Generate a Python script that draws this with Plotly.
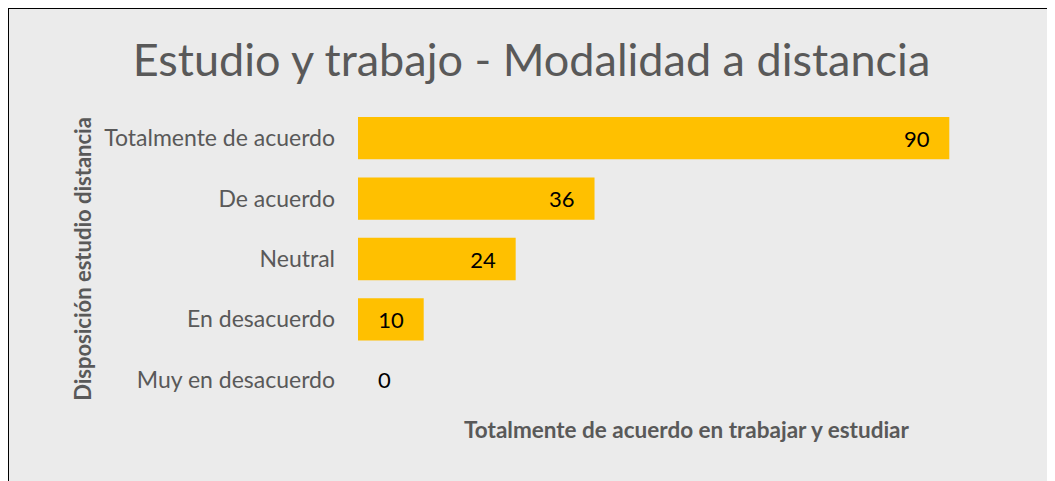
import plotly.graph_objects as go

categories = ["Totalmente de acuerdo", "De acuerdo", "Neutral", "En desacuerdo", "Muy en desacuerdo"]
values = [90, 36, 24, 10, 0]
title_text = "Estudio y trabajo - Modalidad a distancia"
x_title = "Totalmente de acuerdo en trabajar y estudiar"
y_title = "Disposición estudio distancia"

W, H = 1047, 473
L, R, T, B = 350, 40, 100, 71
FONT = "Lato"
PAD = "\u00a0\u00a0\u00a0"

fig = go.Figure(go.Bar(
    y=categories, x=values, orientation="h",
    marker=dict(color="#FFC000", line=dict(width=0)),
    text=[(str(v) + PAD) if v > 0 else (PAD + str(v)) for v in values],
    textposition=["inside" if v > 0 else "outside" for v in values],
    insidetextanchor="end",
    textfont=dict(family=FONT, size=22, color="#000000"),
    cliponaxis=False,
))

fig.update_layout(
    width=W, height=H, autosize=False,
    margin=dict(l=L, r=R, t=T, b=B),
    paper_bgcolor="#EBEBEB", plot_bgcolor="#EBEBEB",
    bargap=0.3,
    title=dict(text=title_text, x=0.5, xanchor="center", y=1 - 52 / H, yanchor="middle",
               font=dict(family=FONT, size=45, color="#595959")),
    xaxis=dict(range=[0, 100], showticklabels=False, showgrid=False, zeroline=False,
               showline=False, ticks="",
               title=dict(text="<b>" + x_title + "</b>", standoff=12,
                          font=dict(family=FONT, size=22.5, color="#595959"))),
    yaxis=dict(autorange="reversed", showgrid=False, zeroline=False, showline=False,
               ticks="", ticklabelstandoff=22,
               tickfont=dict(family=FONT, size=23, color="#595959"),
               title=dict(text="<b>" + y_title + "</b>", standoff=6,
                          font=dict(family=FONT, size=22, color="#595959"))),
    showlegend=False,
)

pw = W - L - R
ph = H - T - B
fig.add_shape(type="line", xref="paper", yref="paper",
              x0=-L / pw, x1=(W - L) / pw + 0.01, y0=(H - B) / ph, y1=(H - B) / ph,
              line=dict(color="black", width=2))
fig.add_shape(type="line", xref="paper", yref="paper",
              x0=-L / pw, x1=-L / pw, y0=(H - B) / ph, y1=-B / ph - 0.05,
              line=dict(color="black", width=2))

fig.write_html("out.html")
